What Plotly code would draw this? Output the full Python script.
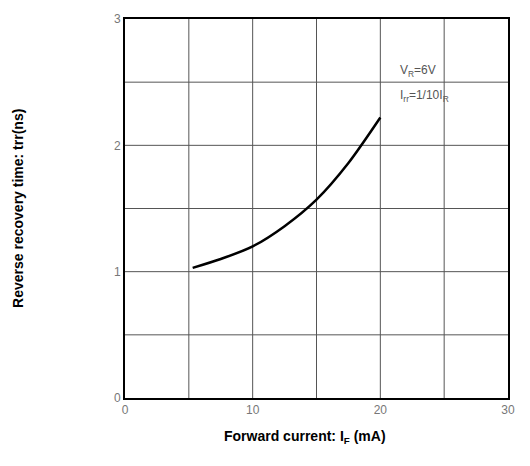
import plotly.graph_objects as go

# Data
forward_current = [5.3, 7.5, 10, 12.5, 15, 17.5, 20]
recovery_time = [1.03, 1.10, 1.20, 1.36, 1.57, 1.86, 2.22]
x_tick_vals = [0, 10, 20, 30]
x_tick_text = ["0", "10", "20", "30"]
y_tick_vals = [0, 1, 2, 3]
y_tick_text = ["0", "1", "2", "3"]
x_grid = [5, 10, 15, 20, 25]
y_grid = [0.5, 1, 1.5, 2, 2.5]

fig = go.Figure()
fig.add_trace(go.Scatter(x=forward_current, y=recovery_time, mode="lines",
                         line=dict(color="black", width=2.5, shape="spline", smoothing=0.8),
                         showlegend=False, hoverinfo="skip"))

shapes = []
for gx in x_grid:
    shapes.append(dict(type="line", xref="x", yref="y", x0=gx, x1=gx, y0=0, y1=3,
                       line=dict(color="#555", width=1), layer="below"))
for gy in y_grid:
    shapes.append(dict(type="line", xref="x", yref="y", x0=0, x1=30, y0=gy, y1=gy,
                       line=dict(color="#555", width=1), layer="below"))

fig.update_layout(
    width=520, height=456,
    margin=dict(l=117, r=20, t=4, b=66),
    paper_bgcolor="white", plot_bgcolor="white",
    shapes=shapes,
    xaxis=dict(range=[0, 30], tickvals=x_tick_vals, ticktext=x_tick_text,
               showgrid=False, zeroline=False, showline=True, mirror=True,
               linecolor="black", linewidth=2, ticks="", ticklabeloverflow="allow",
               tickfont=dict(family="Arial", size=12, color="#777")),
    yaxis=dict(range=[0, 3], tickvals=y_tick_vals, ticktext=y_tick_text,
               showgrid=False, zeroline=False, showline=True, mirror=True,
               linecolor="black", linewidth=2, ticks="", ticklabeloverflow="allow",
               tickfont=dict(family="Arial", size=12, color="#777")),
    annotations=[
        dict(text="<b>Forward current: I<sub>F</sub> (mA)</b>", xref="paper", yref="paper",
             x=0.47, y=-0.075, xanchor="center", yanchor="top", showarrow=False,
             font=dict(family="Arial", size=14, color="black")),
        dict(text="<b>Reverse recovery time: trr(ns)</b>", xref="paper", yref="paper",
             x=-0.281, y=0.5, xanchor="center", yanchor="middle", textangle=-90,
             showarrow=False, font=dict(family="Arial", size=14, color="black")),
        dict(text="V<sub>R</sub>=6V", xref="x", yref="y",
             x=21.4, y=2.59, xanchor="left", yanchor="middle", align="left",
             showarrow=False, font=dict(family="Arial", size=12, color="#555")),
        dict(text="I<sub>rr</sub>=1/10I<sub>R</sub>", xref="x", yref="y",
             x=21.4, y=2.39, xanchor="left", yanchor="middle", align="left",
             showarrow=False, font=dict(family="Arial", size=12, color="#555")),
    ],
)

fig.write_html("out.html")
